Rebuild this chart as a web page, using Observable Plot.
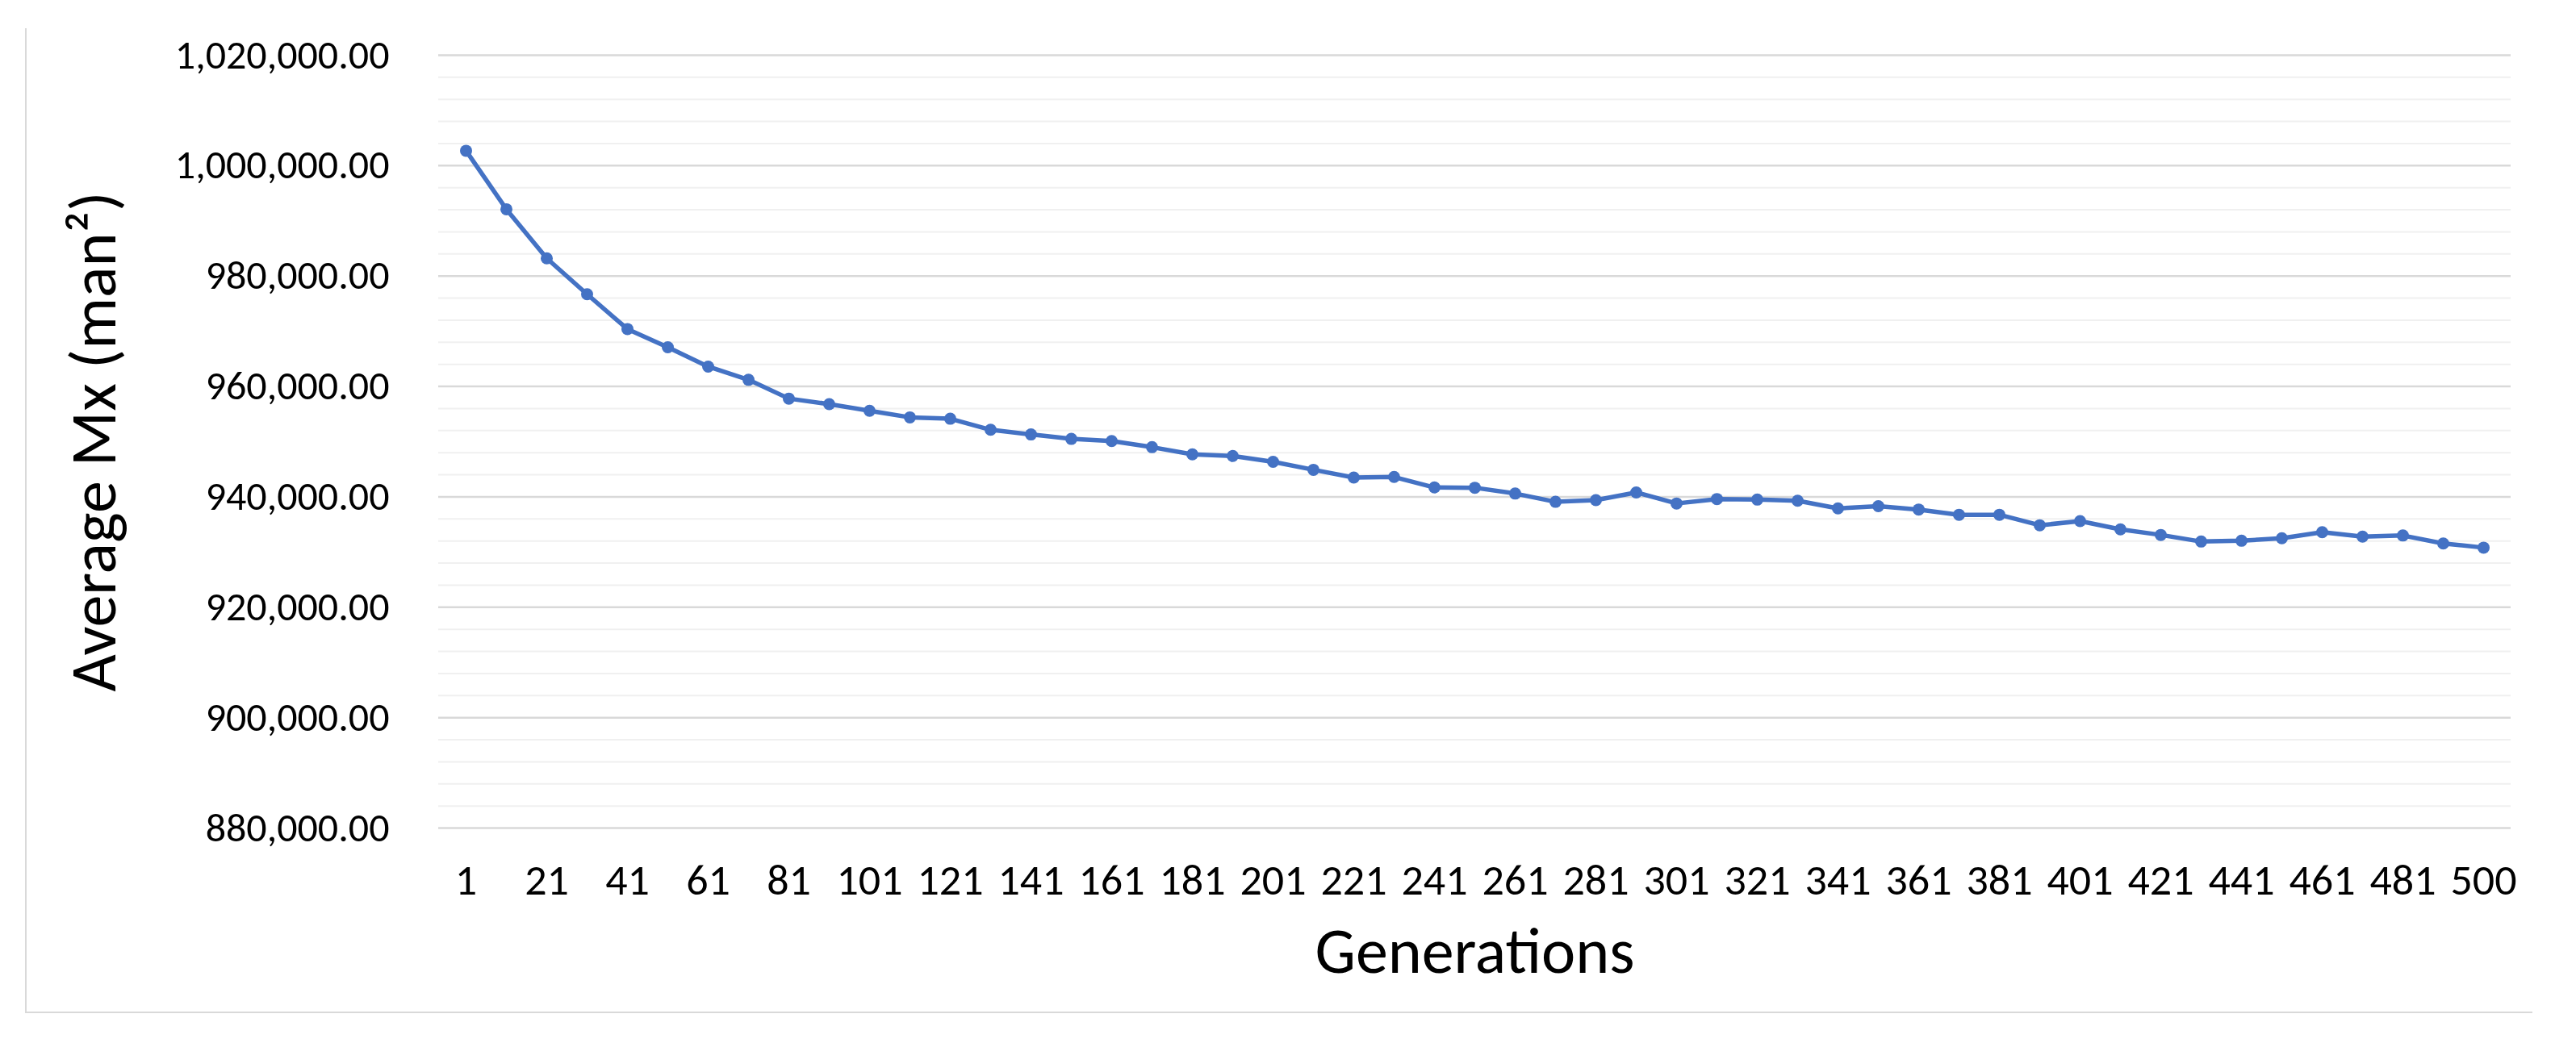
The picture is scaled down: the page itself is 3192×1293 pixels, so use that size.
<!DOCTYPE html>
<html>
<head>
<meta charset="utf-8">
<script src="https://cdn.jsdelivr.net/npm/d3@7"></script>
<script src="https://cdn.jsdelivr.net/npm/@observablehq/plot@0.6"></script>
<style>
  html, body { margin: 0; padding: 0; background: #fff; }
  #wrap { position: relative; width: 3192px; height: 1293px; overflow: hidden; }
  #frame { position: absolute; left: 31px; top: 35px; width: 3107px; height: 1221px;
           border-left: 2px solid #d9d9d9; border-bottom: 2px solid #d9d9d9; box-sizing: border-box; }
  #chart { position: absolute; left: 0; top: 0; }
</style>
</head>
<body>
<div id="wrap"><div id="frame"></div><div id="chart"></div></div>
<script>
const generations = [1, 11, 21, 31, 41, 51, 61, 71, 81, 91,
  101, 111, 121, 131, 141, 151, 161, 171, 181, 191,
  201, 211, 221, 231, 241, 251, 261, 271, 281, 291,
  301, 311, 321, 331, 341, 351, 361, 371, 381, 391,
  401, 411, 421, 431, 441, 451, 461, 471, 481, 491, 500];

const averageMx = [1002700, 992100, 983200, 976700, 970400, 967100, 963600, 961200, 957800, 956800,
  955600, 954400, 954150, 952150, 951300, 950500, 950100, 949000, 947700, 947400,
  946350, 944900, 943500, 943600, 941700, 941650, 940600, 939100, 939400, 940800,
  938800, 939600, 939500, 939300, 937900, 938300, 937700, 936750, 936750, 934850,
  935600, 934100, 933100, 931900, 932050, 932500, 933600, 932800, 933000, 931550, 930800];

const xTickLabels = [1, 21, 41, 61, 81, 101, 121, 141, 161, 181, 201, 221, 241, 261, 281,
  301, 321, 341, 361, 381, 401, 421, 441, 461, 481, 500];
const yMajorTicks = [880000, 900000, 920000, 940000, 960000, 980000, 1000000, 1020000];
const yMinorTicks = [884000, 888000, 892000, 896000, 904000, 908000, 912000, 916000,
  924000, 928000, 932000, 936000, 944000, 948000, 952000, 956000,
  964000, 968000, 972000, 976000, 984000, 988000, 992000, 996000,
  1004000, 1008000, 1012000, 1016000];
const xTitle = "Generations";
const yTitle = "Average Mx (man²)";

const data = generations.map((g, i) => ({gen: g, mx: averageMx[i]}));
const blue = "#4472C4";
const font = "Calibri, Carlito, 'Liberation Sans', Arial, sans-serif";

const chart = Plot.plot({
  width: 3192,
  height: 1293,
  marginLeft: 543,
  marginRight: 81,
  marginTop: 68,
  marginBottom: 267,
  style: {fontFamily: font, color: "#000", background: "transparent", overflow: "visible"},
  x: {type: "point", domain: generations, padding: 0.5, label: null},
  y: {domain: [880000, 1020000], label: null},
  marks: [
    Plot.ruleY(yMinorTicks, {stroke: "#f0f0f0", strokeWidth: 2}),
    Plot.ruleY(yMajorTicks, {stroke: "#d9d9d9", strokeWidth: 2.5}),
    Plot.axisY({ticks: yMajorTicks, tickSize: 0, tickPadding: 61, tickFormat: d3.format(",.2f"),
                fontSize: 50, label: null, fill: "#000"}),
    Plot.axisX({ticks: xTickLabels, tickSize: 0, tickPadding: 44, fontSize: 54, label: null, fill: "#000"}),
    Plot.line(data, {x: "gen", y: "mx", stroke: blue, strokeWidth: 5.5}),
    Plot.dot(data, {x: "gen", y: "mx", r: 7.5, fill: blue, stroke: "none"}),
    Plot.text([xTitle], {text: d => d, frameAnchor: "bottom", dy: 179, lineAnchor: "bottom",
                         textAnchor: "middle", fontSize: 80, fill: "#000"}),
    Plot.text([yTitle], {text: d => d, frameAnchor: "left", dx: -401, rotate: -90, lineAnchor: "bottom",
                         textAnchor: "middle", fontSize: 80, fill: "#000"})
  ]
});
document.getElementById("chart").appendChild(chart);
</script>
</body>
</html>
